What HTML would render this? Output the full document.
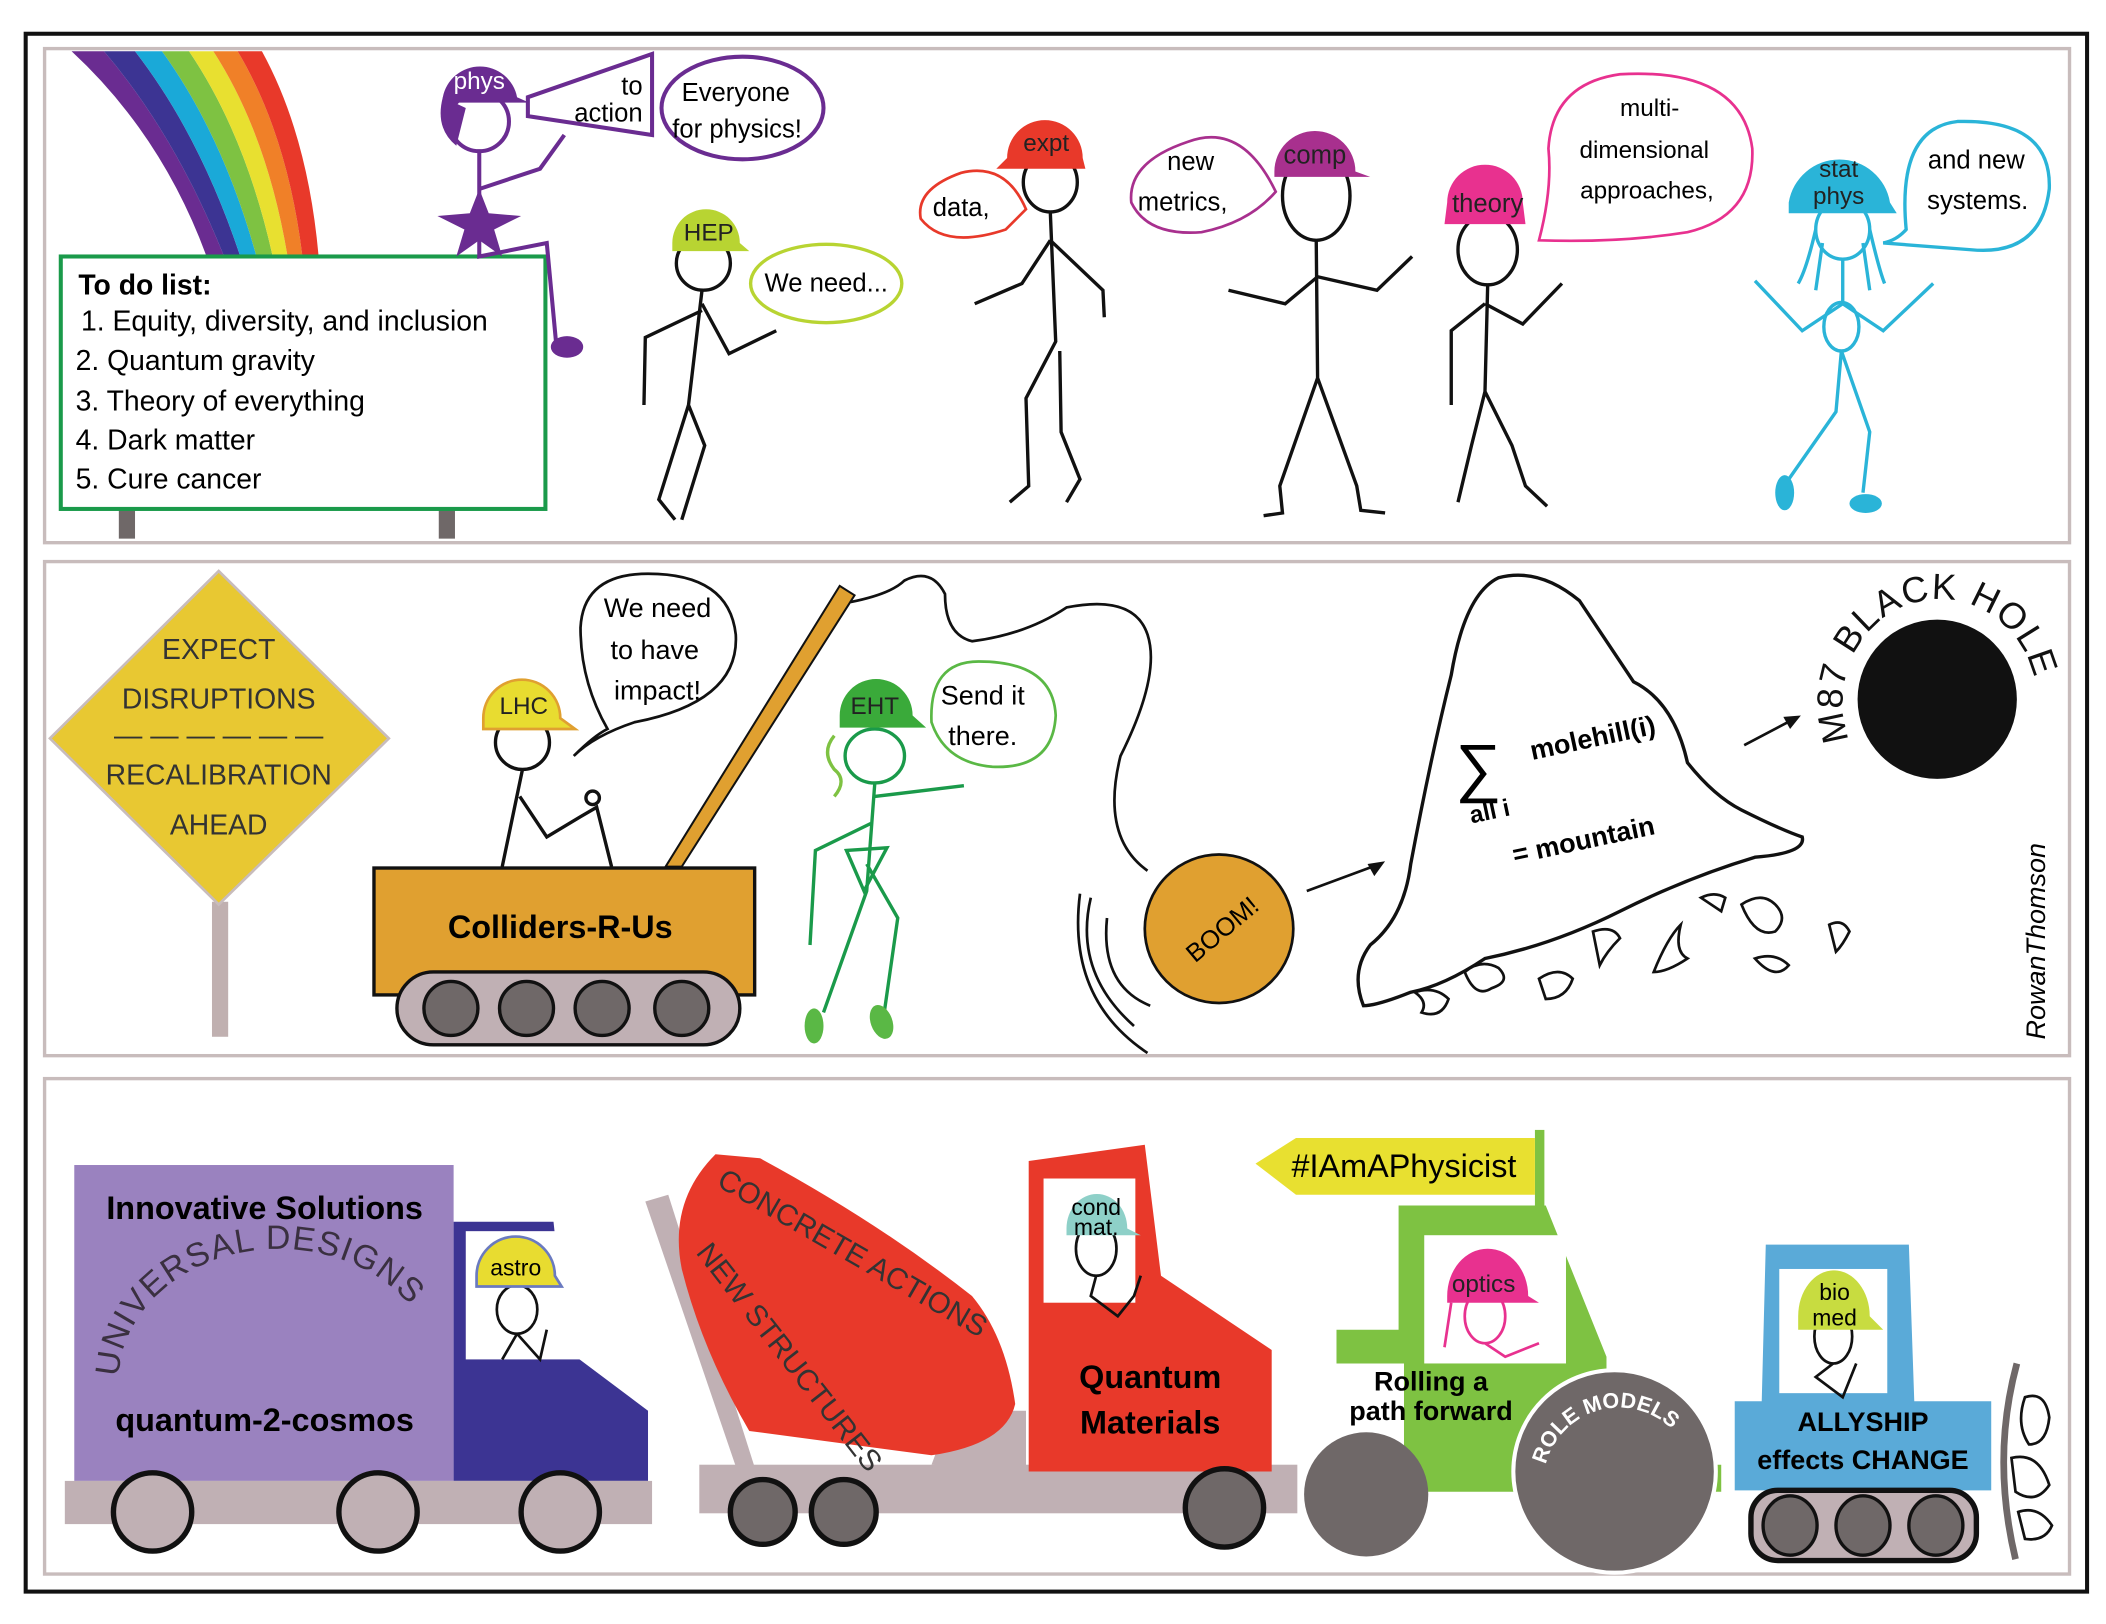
<!DOCTYPE html>
<html><head><meta charset="utf-8">
<style>
html,body{margin:0;padding:0;background:#fff;}
svg{display:block;}
text{font-family:"Liberation Sans",sans-serif;}
.h{font-family:"Liberation Sans Narrow","Liberation Sans",sans-serif;}
</style></head>
<body>
<svg width="2106" height="1624" viewBox="0 0 1560 1203" xmlns="http://www.w3.org/2000/svg">
<rect x="0" y="0" width="1560" height="1203" fill="#fff"/>
<rect x="19" y="25" width="1527" height="1154" fill="none" stroke="#111" stroke-width="3"/>
<rect x="33" y="36" width="1500" height="366" fill="none" stroke="#c8bcbc" stroke-width="2.5"/>
<rect x="33" y="416" width="1500" height="366" fill="none" stroke="#c8bcbc" stroke-width="2.5"/>
<rect x="33" y="799" width="1500" height="367" fill="none" stroke="#c8bcbc" stroke-width="2.5"/>

<!-- rainbow -->
<g>
<path d="M53,38 L77,38 Q130,100 166,190 L153,190 Q120,100 53,38 Z" fill="#6a2c91"/>
<path d="M77,38 L100,38 Q148,100 178,190 L166,190 Q130,100 77,38 Z" fill="#3c3493"/>
<path d="M100,38 L120,38 Q165,100 190,190 L178,190 Q148,100 100,38 Z" fill="#1aa9d8"/>
<path d="M120,38 L140,38 Q182,100 202,190 L190,190 Q165,100 120,38 Z" fill="#7ec242"/>
<path d="M140,38 L158,38 Q198,100 213,190 L202,190 Q182,100 140,38 Z" fill="#e8e030"/>
<path d="M158,38 L176,38 Q213,100 224,190 L213,190 Q198,100 158,38 Z" fill="#f08028"/>
<path d="M176,38 L194,38 Q228,100 236,190 L224,190 Q213,100 176,38 Z" fill="#e8392a"/>
</g>
<!-- sign -->
<rect x="88" y="377" width="12" height="22" fill="#6f6868"/>
<rect x="325" y="377" width="12" height="22" fill="#6f6868"/>
<rect x="45" y="190" width="359" height="187" fill="#fff" stroke="#1a9a4a" stroke-width="3"/>
<text x="58" y="218" font-size="21" font-weight="bold" class="h">To do list:</text>
<g font-size="21">
<text x="60" y="245">1. Equity, diversity, and inclusion</text>
<text x="56" y="274">2. Quantum gravity</text>
<text x="56" y="304">3. Theory of everything</text>
<text x="56" y="333">4. Dark matter</text>
<text x="56" y="362">5. Cure cancer</text>
</g>

<!-- phys figure -->
<g stroke="#6a2c91" stroke-width="3" fill="none">
<circle cx="355" cy="90" r="22"/>
<path d="M355,112 L355,190 L405,180 L412,255"/>
<path d="M355,140 L400,125 L418,100"/>
<polygon points="391,72 483,40 483,100 391,86" fill="#fff"/>
<ellipse cx="550" cy="80" rx="60" ry="38" fill="#fff"/>
</g>
<path d="M328,72 A28,28 0 0 1 383,72 L392,76 L328,76 Z" fill="#6a2c91"/>
<path d="M328,72 Q322,95 338,108 L345,80 Z" fill="#6a2c91"/>
<polygon points="355,140 362,158 386,160 366,170 372,190 355,178 338,190 344,170 324,160 348,158" fill="#6a2c91"/>
<ellipse cx="420" cy="257" rx="12" ry="8" fill="#6a2c91"/>
<text x="355" y="66" font-size="18" fill="#fff" text-anchor="middle">phys</text>
<text x="476" y="70" font-size="19" text-anchor="end">to</text>
<text x="476" y="90" font-size="19" text-anchor="end">action</text>
<text x="545" y="75" font-size="19" text-anchor="middle">Everyone</text>
<text x="546" y="102" font-size="19" text-anchor="middle">for physics!</text>

<!-- HEP -->
<g stroke="#111" stroke-width="2.5" fill="none">
<circle cx="521" cy="195" r="20"/>
<path d="M520,215 L510,300 L522,330 L505,385 M510,300 L488,370 L500,385"/>
<path d="M520,230 L478,250 L477,300 M520,225 L540,262 L575,245"/>
</g>
<path d="M498,180 A25,25 0 0 1 548,180 L555,186 L498,186 Z" fill="#b8d432"/>
<text x="525" y="178" font-size="18" text-anchor="middle" fill="#222">HEP</text>
<ellipse cx="612" cy="210" rx="56" ry="29" fill="#fff" stroke="#b8d432" stroke-width="2.5"/>
<text x="612" y="216" font-size="19" text-anchor="middle">We need...</text>

<!-- expt -->
<g stroke="#111" stroke-width="2.5" fill="none">
<ellipse cx="778" cy="135" rx="20" ry="22"/>
<path d="M778,157 L782,253 L760,295 L762,360 L748,372 M785,260 L786,320 L800,355 L790,372"/>
<path d="M778,178 L757,210 L722,225 M778,178 L817,215 L818,235"/>
</g>
<path d="M746,117 A28,28 0 0 1 802,117 L804,125 L738,125 Z" fill="#e8392a"/>
<text x="775" y="112" font-size="18" text-anchor="middle" fill="#222">expt</text>
<path d="M760,155 Q745,120 712,128 Q678,140 682,162 Q700,185 745,170 Z" fill="#fff" stroke="#e8392a" stroke-width="2"/>
<text x="712" y="160" font-size="19" text-anchor="middle">data,</text>

<!-- comp -->
<g stroke="#111" stroke-width="2.5" fill="none">
<ellipse cx="975" cy="145" rx="25" ry="33"/>
<path d="M975,178 L976,280 L948,360 L950,380 L936,382 M976,280 L1005,360 L1008,378 L1026,380"/>
<path d="M976,205 L952,225 L910,215 M976,205 L1020,215 L1046,190"/>
</g>
<path d="M944,127 A30,30 0 0 1 1004,127 L1015,131 L944,131 Z" fill="#a8308e"/>
<text x="974" y="121" font-size="19" text-anchor="middle" fill="#222">comp</text>
<path d="M945,142 Q920,90 880,105 Q835,120 838,150 Q850,175 890,172 Q925,165 945,142 Z" fill="#fff" stroke="#a8308e" stroke-width="2"/>
<text x="882" y="126" font-size="19" text-anchor="middle">new</text>
<text x="876" y="156" font-size="19" text-anchor="middle">metrics,</text>

<!-- theory -->
<g stroke="#111" stroke-width="2.5" fill="none">
<ellipse cx="1102" cy="185" rx="22" ry="26"/>
<path d="M1102,211 L1100,290 L1090,330 L1080,372 M1100,290 L1120,330 L1130,360 L1146,375"/>
<path d="M1100,225 L1075,245 L1075,300 M1100,225 L1128,240 L1157,210"/>
</g>
<path d="M1072,150 A28,28 0 0 1 1128,150 L1130,166 L1070,166 Z" fill="#e8318f"/>
<text x="1102" y="157" font-size="19" text-anchor="middle" fill="#222">theory</text>
<path d="M1140,178 Q1150,140 1147,110 Q1150,62 1200,55 Q1290,50 1298,110 Q1300,160 1250,172 Q1200,180 1140,178 Z" fill="#fff" stroke="#e8318f" stroke-width="2"/>
<text x="1222" y="86" font-size="18" text-anchor="middle">multi-</text>
<text x="1218" y="117" font-size="18" text-anchor="middle">dimensional</text>
<text x="1220" y="147" font-size="18" text-anchor="middle">approaches,</text>

<!-- stat phys -->
<g stroke="#2ab4d8" stroke-width="2.5" fill="none">
<ellipse cx="1365" cy="170" rx="20" ry="22"/>
<path d="M1345,170 Q1338,200 1332,210 M1385,170 Q1392,200 1396,210 M1350,180 L1345,215 M1380,180 L1385,215"/>
<path d="M1365,192 L1365,225 L1335,245 L1300,208 M1365,225 L1395,245 L1432,210"/>
<ellipse cx="1364" cy="242" rx="13" ry="18"/>
<path d="M1364,260 L1360,305 L1325,355 M1364,260 L1385,320 L1380,365"/>
<path d="M1395,180 Q1405,178 1412,170 Q1405,95 1450,90 Q1520,88 1518,140 Q1512,190 1460,185 Q1420,182 1395,180 Z" fill="#fff"/>
</g>
<path d="M1325,150 A38,38 0 0 1 1400,150 L1405,158 L1325,158 Z" fill="#2ab4d8"/>
<ellipse cx="1322" cy="365" rx="7" ry="13" fill="#2ab4d8"/>
<ellipse cx="1382" cy="373" rx="12" ry="7" fill="#2ab4d8"/>
<text x="1362" y="131" font-size="18" text-anchor="middle" fill="#222">stat</text>
<text x="1362" y="151" font-size="18" text-anchor="middle" fill="#222">phys</text>
<text x="1464" y="125" font-size="19" text-anchor="middle">and new</text>
<text x="1465" y="155" font-size="19" text-anchor="middle">systems.</text>

<!-- PANEL 2 -->
<rect x="157" y="668" width="12" height="100" fill="#c0b0b0"/>
<polygon points="162,423 288,547 162,670 37,547" fill="#e8c832" stroke="#c8bcbc" stroke-width="2"/>
<g font-size="21" text-anchor="middle" fill="#333">
<text x="162" y="488">EXPECT</text>
<text x="162" y="525">DISRUPTIONS</text>
<text x="162" y="552">— — — — — —</text>
<text x="162" y="581">RECALIBRATION</text>
<text x="162" y="618">AHEAD</text>
</g>

<!-- crane arm -->
<polygon points="493,642 622,434 633,441 505,642" fill="#e0a030" stroke="#111" stroke-width="1.5"/>
<path d="M630,446 Q660,440 670,430 Q690,420 700,440 Q700,470 720,475 Q760,470 790,450 Q840,440 850,470 Q860,500 830,560 Q815,620 850,645" fill="none" stroke="#111" stroke-width="2"/>
<!-- LHC figure -->
<g stroke="#111" stroke-width="2.5" fill="none">
<ellipse cx="387" cy="550" rx="20" ry="20"/>
<path d="M387,570 L372,642 M385,590 L405,620 L430,605 L442,598 L453,642"/>
<circle cx="439" cy="591" r="5"/>
</g>
<path d="M358,532 A28,28 0 0 1 415,532 L426,540 L358,540 Z" fill="#e8dc30" stroke="#e0a030" stroke-width="2"/>
<text x="388" y="529" font-size="18" text-anchor="middle" fill="#222">LHC</text>
<path d="M425,560 Q440,545 450,540 Q430,505 430,465 Q432,425 480,425 Q540,425 545,470 Q548,520 470,535 Q440,545 425,560 Z" fill="#fff" stroke="#111" stroke-width="2"/>
<text x="487" y="457" font-size="20" text-anchor="middle">We need</text>
<text x="485" y="488" font-size="20" text-anchor="middle">to have</text>
<text x="487" y="518" font-size="20" text-anchor="middle">impact!</text>
<!-- truck -->
<rect x="277" y="643" width="282" height="94" fill="#e0a030" stroke="#111" stroke-width="2.5"/>
<text x="415" y="695" font-size="24" font-weight="bold" text-anchor="middle">Colliders-R-Us</text>
<rect x="294" y="720" width="254" height="54" rx="27" fill="#c0b0b4" stroke="#111" stroke-width="2.5"/>
<g fill="#6f6868" stroke="#111" stroke-width="2.5">
<circle cx="334" cy="747" r="20"/><circle cx="390" cy="747" r="20"/><circle cx="446" cy="747" r="20"/><circle cx="505" cy="747" r="20"/>
</g>
<!-- EHT -->
<g stroke="#1a9a4a" stroke-width="2.5" fill="none">
<ellipse cx="648" cy="560" rx="22" ry="20"/>
<path d="M648,580 L642,660 L610,750 M642,640 L665,680 L655,750 M648,590 L714,582 M645,610 L604,630 L600,700"/>
<path d="M627,630 L657,628 L640,660 Z"/>
<path d="M618,545 q-10,12 0,25 q10,8 0,20" stroke="#7ec242"/>
</g>
<path d="M622,530 A27,27 0 0 1 676,530 L686,539 L622,539 Z" fill="#3aaa3a"/>
<text x="648" y="529" font-size="18" text-anchor="middle" fill="#222">EHT</text>
<ellipse cx="603" cy="760" rx="7" ry="13" fill="#5ab845"/>
<ellipse cx="653" cy="757" rx="8" ry="13" fill="#5ab845" transform="rotate(-20 653 757)"/>
<path d="M690,535 Q688,490 725,490 Q780,490 782,530 Q780,570 735,568 Q700,565 690,535 Z" fill="#fff" stroke="#5ab845" stroke-width="2"/>
<text x="728" y="522" font-size="20" text-anchor="middle">Send it</text>
<text x="728" y="552" font-size="20" text-anchor="middle">there.</text>
<!-- ball -->
<path d="M808,665 Q795,720 840,760 M820,680 Q815,730 852,745" fill="none" stroke="#111" stroke-width="2"/>
<path d="M800,662 Q790,740 850,780" fill="none" stroke="#111" stroke-width="2"/>
<circle cx="903" cy="688" r="55" fill="#e0a030" stroke="#111" stroke-width="2"/>
<text x="905" y="695" font-size="19" text-anchor="middle" transform="rotate(-40 905 688)">BOOM!</text>
<path d="M968,660 L1022,640" stroke="#111" stroke-width="2"/>
<polygon points="1026,638 1013,640 1018,649" fill="#111"/>
<!-- mountain -->
<path d="M1110,428 Q1140,420 1170,445 Q1200,490 1210,505 Q1240,520 1250,565 Q1270,590 1290,600 Q1320,615 1335,620 Q1338,632 1300,635 Q1250,650 1200,675 Q1150,700 1100,710 Q1070,730 1045,735 Q1020,745 1010,745 Q1000,720 1015,700 Q1040,680 1045,640 Q1060,560 1075,500 Q1085,440 1110,428 Z" fill="#fff" stroke="#111" stroke-width="2.5"/>
<text x="1078" y="585" font-size="48">∑</text>
<text x="1135" y="563" font-size="20" font-weight="bold" transform="rotate(-12 1135 563)">molehill(i)</text>
<text x="1090" y="610" font-size="18" font-weight="bold" transform="rotate(-12 1090 610)">all i</text>
<text x="1122" y="640" font-size="20" font-weight="bold" transform="rotate(-12 1122 640)">= mountain</text>
<g fill="#fff" stroke="#111" stroke-width="2">
<path d="M1048,735 q15,-5 25,5 q-5,15 -20,10 q5,-8 -5,-15z"/>
<path d="M1085,720 q12,-10 25,-3 q10,10 -5,15 q-12,8 -20,-12z"/>
<path d="M1140,725 q15,-10 25,0 q-5,15 -20,15 z"/>
<path d="M1180,690 q15,-5 20,5 q-10,10 -15,20 z"/>
<path d="M1225,720 q10,-25 20,-35 q-5,20 5,25 q-15,10 -25,10z"/>
<path d="M1260,665 q10,-5 18,0 l-3,10 z"/>
<path d="M1290,670 q15,-10 25,0 q10,10 0,20 q-15,5 -25,-20z"/>
<path d="M1300,710 q15,-5 25,5 q-10,12 -25,-5z"/>
<path d="M1355,685 q10,-5 15,5 q-5,10 -10,15 z"/>
</g>
<path d="M1292,552 L1330,532" stroke="#111" stroke-width="2"/>
<polygon points="1334,530 1321,531 1326,540" fill="#111"/>
<circle cx="1435" cy="518" r="59" fill="#111"/>
<defs><path id="arc" d="M1370,548 A72,76 0 1 1 1508,532"/></defs>
<text font-size="27" fill="#111" letter-spacing="1"><textPath href="#arc">M87 BLACK HOLE</textPath></text>
<text x="1515" y="770" font-size="20" font-style="italic" transform="rotate(-90 1515 770)">RowanThomson</text>

<!-- PANEL 3 -->
<!-- purple truck -->
<rect x="55" y="863" width="281" height="234" fill="#9a82bf"/>
<polygon points="336,905 410,905 420,1000 480,1045 480,1097 336,1097" fill="#3c3493"/>
<rect x="345" y="912" width="85" height="95" fill="#fff"/>
<g stroke="#111" stroke-width="2" fill="none"><ellipse cx="383" cy="970" rx="15" ry="18"/><path d="M383,988 L372,1007 M383,988 L400,1007 L405,985"/></g>
<path d="M353,945 A28,28 0 0 1 411,945 L416,953 L353,953 Z" fill="#e8dc30" stroke="#6a7ac0" stroke-width="2"/>
<text x="382" y="945" font-size="17" text-anchor="middle" class="h">astro</text>
<text x="196" y="903" font-size="24" font-weight="bold" text-anchor="middle">Innovative Solutions</text>
<defs><path id="arc2" d="M88,1020 A112,92 0 0 1 325,1025"/></defs>
<text font-size="25" font-family="Liberation Serif" fill="#3a3040" letter-spacing="1"><textPath href="#arc2">UNIVERSAL DESIGNS</textPath></text>
<text x="196" y="1060" font-size="24" font-weight="bold" text-anchor="middle">quantum-2-cosmos</text>
<rect x="48" y="1097" width="435" height="32" fill="#c0b0b4"/>
<g fill="#c0b0b4" stroke="#111" stroke-width="4"><circle cx="113" cy="1120" r="29"/><circle cx="280" cy="1120" r="29"/><circle cx="415" cy="1120" r="29"/></g>

<!-- mixer -->
<polygon points="478,890 495,885 560,1090 548,1095" fill="#c0b0b4"/>
<rect x="518" y="1085" width="443" height="36" fill="#c0b0b4"/>
<polygon points="690,1085 705,1045 760,1045 760,1090" fill="#c0b0b4"/>
<path d="M530,855 L563,858 Q650,905 720,960 Q745,990 752,1040 Q745,1070 690,1078 L555,1060 Q520,1000 505,940 Q495,890 530,855 Z" fill="#e8392a"/>
<text font-size="22" font-family="Liberation Serif" fill="#333" transform="translate(530,878) rotate(30)">CONCRETE ACTIONS</text>
<text font-size="22" font-family="Liberation Serif" fill="#333" transform="translate(515,928) rotate(52)">NEW STRUCTURES</text>
<polygon points="762,860 848,848 860,945 942,1000 942,1090 762,1090" fill="#e8392a"/>
<rect x="773" y="873" width="68" height="92" fill="#fff"/>
<g stroke="#111" stroke-width="2" fill="none"><ellipse cx="812" cy="925" rx="15" ry="20"/><path d="M812,945 L808,960 L828,975 L840,960 L845,945"/></g>
<path d="M790,910 A22,25 0 0 1 835,910 L845,915 L790,915 Z" fill="#8ed0c8"/>
<text x="812" y="900" font-size="17" text-anchor="middle" class="h">cond</text>
<text x="812" y="915" font-size="17" text-anchor="middle" class="h">mat.</text>
<text x="852" y="1028" font-size="24" font-weight="bold" text-anchor="middle">Quantum</text>
<text x="852" y="1062" font-size="24" font-weight="bold" text-anchor="middle">Materials</text>
<g fill="#6f6868" stroke="#111" stroke-width="4"><circle cx="565" cy="1120" r="24"/><circle cx="625" cy="1120" r="24"/><circle cx="907" cy="1117" r="29"/></g>

<!-- tractor -->
<rect x="1137" y="837" width="7" height="60" fill="#7ec242"/>
<polygon points="930,862 960,843 1137,843 1137,885 960,885" fill="#e8e030"/>
<text x="1040" y="872" font-size="24" text-anchor="middle" class="h">#IAmAPhysicist</text>
<polygon points="1036,893 1145,893 1190,1005 1190,1085 1275,1085 1275,1105 1040,1105 1040,1010 990,1010 990,985 1036,985" fill="#7ec242"/>
<rect x="1055" y="915" width="105" height="95" fill="#fff"/>
<g stroke="#e8318f" stroke-width="2" fill="none"><ellipse cx="1100" cy="975" rx="15" ry="20"/><path d="M1100,995 L1115,1005 L1140,995 M1075,965 L1070,998"/></g>
<path d="M1072,960 A30,35 0 0 1 1132,960 L1140,965 L1072,965 Z" fill="#e8318f"/>
<text x="1099" y="957" font-size="18" text-anchor="middle" fill="#222">optics</text>
<text x="1060" y="1030" font-size="20" font-weight="bold" text-anchor="middle">Rolling a</text>
<text x="1060" y="1052" font-size="20" font-weight="bold" text-anchor="middle">path forward</text>
<circle cx="1012" cy="1107" r="46" fill="#6f6868"/>
<circle cx="1196" cy="1090" r="75" fill="#6f6868" stroke="#fff" stroke-width="3"/>
<defs><path id="arc3" d="M1145,1085 A56,56 0 0 1 1250,1075"/></defs>
<text font-size="16" font-weight="bold" fill="#fff"><textPath href="#arc3">ROLE MODELS</textPath></text>

<!-- blue -->
<polygon points="1308,922 1414,922 1418,1038 1475,1038 1475,1104 1285,1104 1285,1038 1305,1038" fill="#5aaad8"/>
<rect x="1318" y="940" width="80" height="92" fill="#fff"/>
<g stroke="#111" stroke-width="2" fill="none"><ellipse cx="1358" cy="990" rx="14" ry="20"/><path d="M1358,1010 L1345,1020 L1365,1035 L1375,1010"/></g>
<path d="M1332,975 A25,32 0 0 1 1385,975 L1395,985 L1332,985 Z" fill="#c8dc40"/>
<text x="1359" y="963" font-size="17" text-anchor="middle" class="h">bio</text>
<text x="1359" y="982" font-size="17" text-anchor="middle" class="h">med</text>
<text x="1380" y="1060" font-size="20" font-weight="bold" text-anchor="middle">ALLYSHIP</text>
<text x="1380" y="1088" font-size="20" font-weight="bold" text-anchor="middle">effects CHANGE</text>
<rect x="1297" y="1104" width="167" height="52" rx="20" fill="#c0b0b4" stroke="#111" stroke-width="4"/>
<g fill="#6f6868" stroke="#111" stroke-width="2.5"><ellipse cx="1326" cy="1130" rx="20" ry="22"/><ellipse cx="1380" cy="1130" rx="20" ry="22"/><ellipse cx="1434" cy="1130" rx="20" ry="22"/></g>
<path d="M1494,1010 Q1475,1080 1493,1155" fill="none" stroke="#6f6868" stroke-width="5"/>
<g fill="#fff" stroke="#111" stroke-width="2">
<path d="M1500,1035 q15,-5 18,15 q-2,20 -15,20 q-10,-15 -3,-35z"/>
<path d="M1490,1080 q20,-5 28,20 q-10,15 -25,5 z"/>
<path d="M1495,1120 q15,-5 25,10 q-5,12 -20,10 z"/>
</g>
</svg>
</body></html>
